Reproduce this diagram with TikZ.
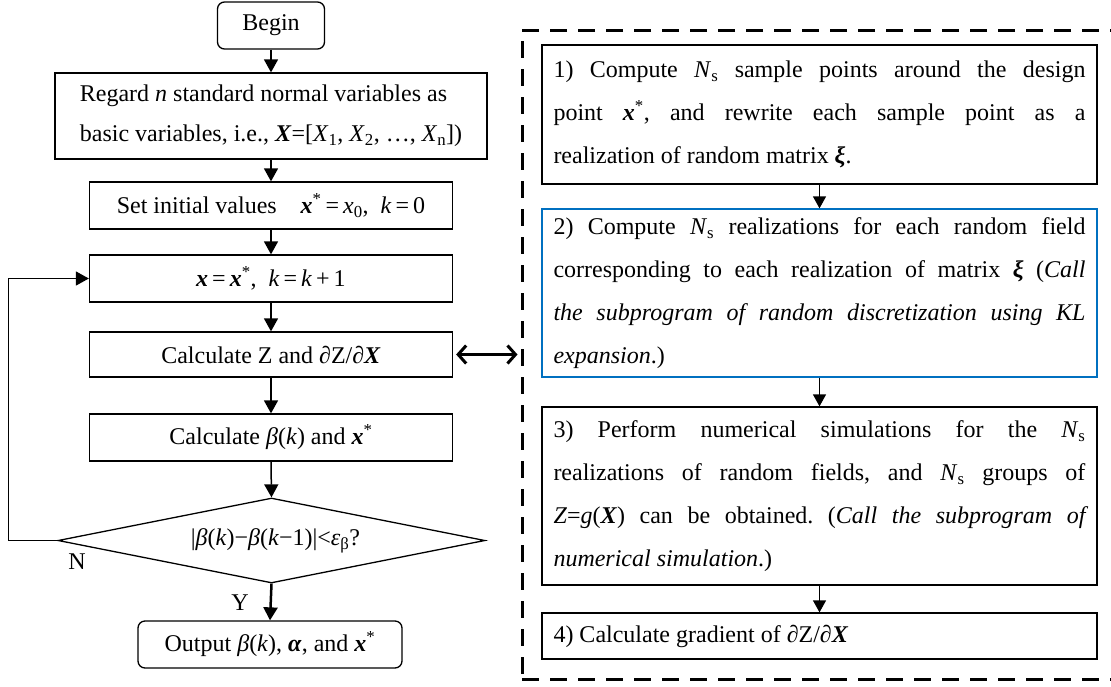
\documentclass[tikz,border=0pt]{standalone}
\usepackage{fontspec}
\setmainfont{Liberation Serif}
\usetikzlibrary{arrows.meta,shapes.geometric}
\definecolor{boxblue}{RGB}{0,112,192}
\newcommand{\bvec}[1]{\textbf{\textit{#1}}}
\newcommand{\itv}[1]{\textit{#1}}
\frenchspacing
\begin{document}
\begin{tikzpicture}[x=1pt,y=-1pt,
  every node/.style={font=\fontsize{24}{40}\selectfont},
  box/.style={draw, line width=1.3pt, inner sep=0pt},
  rbox/.style={box, rounded corners=7pt},
  rtext/.style={box, minimum width=555pt, text width=532pt, align=justify, font=\fontsize{24}{43}\selectfont},
  flow/.style={line width=1.5pt, -{Triangle[length=13pt,width=14pt]}},
  flowthin/.style={line width=1.3pt, -{Triangle[length=12pt,width=13pt]}},
  dbl/.style={line width=3pt, {Straight Barb[length=8pt,width=18pt]}-{Straight Barb[length=8pt,width=18pt]}},
  grpbox/.style={draw, line width=3pt, dash pattern=on 17pt off 11pt, inner sep=0pt}
]
\useasboundingbox (0,0) rectangle (1111,686);
\clip (0,0) rectangle (1111,686);

% left column
\node[rbox, minimum width=107pt, minimum height=47pt] (begin) at (271,25.5) {Begin};
\node[box, minimum width=432pt, minimum height=86pt, align=left] (reg) at (271,116)
  {Regard \itv{n} standard normal variables as\\basic variables, i.e., \bvec{X}=[\itv{X}\textsubscript{1}, \itv{X}\textsubscript{2}, \dots, \itv{X}\textsubscript{n}])};
\node[box, minimum width=363pt, minimum height=47pt] (init) at (271,205.5)
  {Set initial values\quad \bvec{x}\textsuperscript{*}\,=\,\itv{x}\textsubscript{0},\ \ \itv{k}\,=\,0};
\node[box, minimum width=363pt, minimum height=47pt] (upd) at (271,278.5)
  {\bvec{x}\,=\,\bvec{x}\textsuperscript{*},\ \ \itv{k}\,=\,\itv{k}\,+\,1};
\node[box, minimum width=363pt, minimum height=45pt] (calc) at (271,354.5)
  {Calculate Z and ∂Z/∂\bvec{X}};
\node[box, minimum width=363pt, minimum height=47pt] (beta) at (271,437.5)
  {Calculate \itv{β}(\itv{k}) and \bvec{x}\textsuperscript{*}};
\node[draw, line width=1.3pt, shape=diamond, aspect=5, inner sep=0pt, minimum width=427pt, minimum height=85pt] (dec) at (271.5,540.5)
  {\hspace*{8pt}|\itv{β}(\itv{k})−\itv{β}(\itv{k}−1)|<\itv{ε}\textsubscript{β}?};
\node[rbox, minimum width=264pt, minimum height=47pt] (out) at (270,644.5)
  {Output \itv{β}(\itv{k}), \bvec{α}, and \bvec{x}\textsuperscript{*}};
\node (nlab) at (77,562) {N};
\node (ylab) at (240,603) {Y};

\draw[flow] (begin.south) -- (reg.north);
\draw[flow] (reg.south) -- (init.north);
\draw[flow] (init.south) -- (upd.north);
\draw[flow] (upd.south) -- (calc.north);
\draw[flow] (calc.south) -- (beta.north);
\draw[flow] (beta.south) -- (dec.north);
\draw[flow, line width=2.5pt] (dec.south) -- (out.north);
\draw[flow] (dec.west) -- ++(-49,0) |- (upd.west);

% right group
\node[grpbox, minimum width=594pt, minimum height=649pt] (grp) at (819,354.5) {};
\node[rtext, minimum height=139pt] (s1) at (819.5,114.5)
  {1) Compute \itv{N}\textsubscript{s} sample points around the design\linebreak
   point \bvec{x}\textsuperscript{*}, and rewrite each sample point as a\linebreak
   realization of random matrix \bvec{ξ}.};
\node[rtext, draw=boxblue, minimum height=168pt] (s2) at (819.5,293)
  {2) Compute \itv{N}\textsubscript{s} realizations for each random field\linebreak
   corresponding to each realization of matrix \bvec{ξ} (\itv{Call\linebreak
   the subprogram of random discretization using KL\linebreak
   expansion}.)};
\node[rtext, minimum height=178pt] (s3) at (819.5,496)
  {3) Perform numerical simulations for the \itv{N}\textsubscript{s}\linebreak
   realizations of random fields, and \itv{N}\textsubscript{s} groups of\linebreak
   \itv{Z}=\itv{g}(\bvec{X}) can be obtained. (\itv{Call the subprogram of\linebreak
   numerical simulation}.)};
\node[rtext, minimum height=46pt] (s4) at (819.5,636)
  {4) Calculate gradient of ∂Z/∂\bvec{X}};

\draw[flowthin] (s1.south) -- (s2.north);
\draw[flowthin] (s2.south) -- (s3.north);
\draw[flowthin] (s3.south) -- (s4.north);

\draw[dbl] ([xshift=3pt]calc.east) -- ([xshift=-3pt]calc.east -| grp.west);
\end{tikzpicture}
\end{document}
